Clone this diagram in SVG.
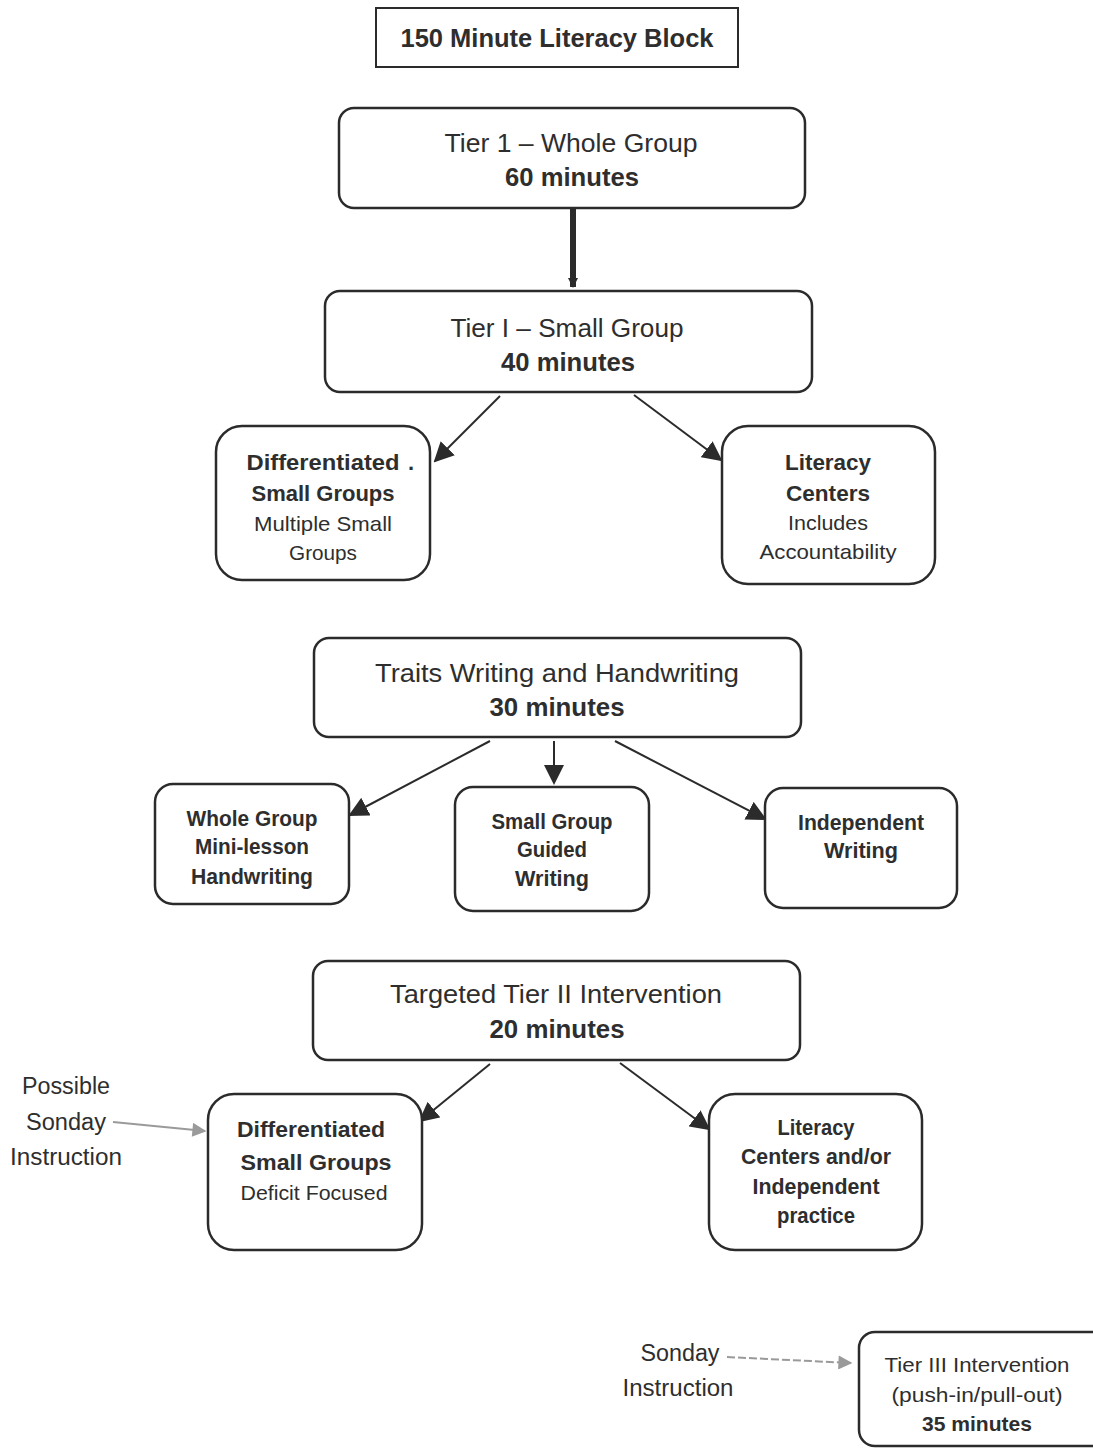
<svg xmlns="http://www.w3.org/2000/svg" width="1093" height="1448" viewBox="0 0 1093 1448">
<defs>
<style>
.bx{fill:#fff;stroke:#2b2b2b;stroke-width:2.5}
text{font-family:"Liberation Sans","Open Sans",sans-serif;fill:#2e2e2e;text-anchor:middle}
.h{font-size:26px}
.hb{font-size:26px;font-weight:bold}
.b{font-size:22px;font-weight:bold}
.r{font-size:21px}
.s{font-size:23px}
.c{stroke:#2b2b2b;stroke-width:2;fill:none}
.g{stroke:#9a9a9a;stroke-width:2;fill:none}
</style>
<marker id="ah" viewBox="0 0 10 10" refX="9" refY="5" markerWidth="20" markerHeight="20" markerUnits="userSpaceOnUse" orient="auto"><path d="M0,0L10,5L0,10z" fill="#2b2b2b"/></marker>
<marker id="ahs" viewBox="0 0 10 10" refX="9" refY="5" markerWidth="10" markerHeight="10" markerUnits="userSpaceOnUse" orient="auto"><path d="M0,0L10,5L0,10z" fill="#2b2b2b"/></marker>
<marker id="ag" viewBox="0 0 10 10" refX="9" refY="5" markerWidth="16" markerHeight="14" markerUnits="userSpaceOnUse" orient="auto"><path d="M0,0L10,5L0,10z" fill="#9a9a9a"/></marker>
</defs>
<rect width="1093" height="1448" fill="#fff"/>

<g id="connectors">
<line class="c" x1="573" y1="209" x2="573" y2="287" style="stroke-width:6" marker-end="url(#ahs)"/>
<line class="c" x1="500" y1="396" x2="435" y2="461" marker-end="url(#ah)"/>
<line class="c" x1="634" y1="395" x2="721" y2="460" marker-end="url(#ah)"/>
<line class="c" x1="490" y1="741" x2="350" y2="815" marker-end="url(#ah)"/>
<line class="c" x1="554" y1="741" x2="554" y2="783" marker-end="url(#ah)"/>
<line class="c" x1="615" y1="741" x2="765" y2="819" marker-end="url(#ah)"/>
<line class="c" x1="490" y1="1064" x2="420" y2="1121" marker-end="url(#ah)"/>
<line class="c" x1="620" y1="1063" x2="709" y2="1129" marker-end="url(#ah)"/>
<line class="g" x1="113" y1="1122" x2="205" y2="1131" marker-end="url(#ag)"/>
<line class="g" x1="727" y1="1357" x2="851" y2="1363" stroke-dasharray="8,3" marker-end="url(#ag)"/>
</g>

<g id="title">
<rect x="376" y="8" width="362" height="59" fill="#fff" stroke="#2b2b2b" stroke-width="2"/>
<text x="557" y="47" style="font-size:25px;font-weight:bold" textLength="313" lengthAdjust="spacingAndGlyphs">150 Minute Literacy Block</text>
</g>

<g id="tier1-whole">
<rect class="bx" x="339" y="108" width="466" height="100" rx="15"/>
<text class="h" x="571" y="152" textLength="253" lengthAdjust="spacingAndGlyphs">Tier 1 – Whole Group</text>
<text class="hb" x="572" y="186" textLength="134" lengthAdjust="spacingAndGlyphs">60 minutes</text>
</g>

<g id="tier1-small">
<rect class="bx" x="325" y="291" width="487" height="101" rx="15"/>
<text class="h" x="567" y="337" textLength="233" lengthAdjust="spacingAndGlyphs">Tier I – Small Group</text>
<text class="hb" x="568" y="371" textLength="134" lengthAdjust="spacingAndGlyphs">40 minutes</text>
</g>

<g id="diff-small-1">
<rect class="bx" x="216" y="426" width="214" height="154" rx="26"/>
<text class="b" x="323" y="470" textLength="153" lengthAdjust="spacingAndGlyphs">Differentiated</text>
<text class="b" x="411" y="470">.</text>
<text class="b" x="323" y="501" textLength="143" lengthAdjust="spacingAndGlyphs">Small Groups</text>
<text class="r" x="323" y="531" textLength="138" lengthAdjust="spacingAndGlyphs">Multiple Small</text>
<text class="r" x="323" y="560" textLength="68" lengthAdjust="spacingAndGlyphs">Groups</text>
</g>

<g id="lit-centers-1">
<rect class="bx" x="722" y="426" width="213" height="158" rx="26"/>
<text class="b" x="828" y="470" textLength="86" lengthAdjust="spacingAndGlyphs">Literacy</text>
<text class="b" x="828" y="501" textLength="84" lengthAdjust="spacingAndGlyphs">Centers</text>
<text class="r" x="828" y="530" textLength="80" lengthAdjust="spacingAndGlyphs">Includes</text>
<text class="r" x="828" y="559" textLength="137" lengthAdjust="spacingAndGlyphs">Accountability</text>
</g>

<g id="traits">
<rect class="bx" x="314" y="638" width="487" height="99" rx="15"/>
<text class="h" x="557" y="682" textLength="364" lengthAdjust="spacingAndGlyphs">Traits Writing and Handwriting</text>
<text class="hb" x="557" y="716" textLength="135" lengthAdjust="spacingAndGlyphs">30 minutes</text>
</g>

<g id="whole-group-mini">
<rect class="bx" x="155" y="784" width="194" height="120" rx="18"/>
<text class="b" x="252" y="826" textLength="131" lengthAdjust="spacingAndGlyphs">Whole Group</text>
<text class="b" x="252" y="854" textLength="114" lengthAdjust="spacingAndGlyphs">Mini-lesson</text>
<text class="b" x="252" y="884" textLength="122" lengthAdjust="spacingAndGlyphs">Handwriting</text>
</g>

<g id="small-group-guided">
<rect class="bx" x="455" y="787" width="194" height="124" rx="18"/>
<text class="b" x="552" y="829" textLength="121" lengthAdjust="spacingAndGlyphs">Small Group</text>
<text class="b" x="552" y="857" textLength="70" lengthAdjust="spacingAndGlyphs">Guided</text>
<text class="b" x="552" y="886" textLength="74" lengthAdjust="spacingAndGlyphs">Writing</text>
</g>

<g id="independent-writing">
<rect class="bx" x="765" y="788" width="192" height="120" rx="18"/>
<text class="b" x="861" y="830" textLength="126" lengthAdjust="spacingAndGlyphs">Independent</text>
<text class="b" x="861" y="858" textLength="74" lengthAdjust="spacingAndGlyphs">Writing</text>
</g>

<g id="tier2">
<rect class="bx" x="313" y="961" width="487" height="99" rx="15"/>
<text class="h" x="556" y="1003" textLength="332" lengthAdjust="spacingAndGlyphs">Targeted Tier II Intervention</text>
<text class="hb" x="557" y="1038" textLength="135" lengthAdjust="spacingAndGlyphs">20 minutes</text>
</g>

<g id="diff-small-2">
<rect class="bx" x="208" y="1094" width="214" height="156" rx="26"/>
<text class="b" x="311" y="1137" textLength="148" lengthAdjust="spacingAndGlyphs">Differentiated</text>
<text class="b" x="316" y="1170" textLength="151" lengthAdjust="spacingAndGlyphs">Small  Groups</text>
<text class="r" x="314" y="1200" textLength="147" lengthAdjust="spacingAndGlyphs">Deficit Focused</text>
</g>

<g id="lit-centers-2">
<rect class="bx" x="709" y="1094" width="213" height="156" rx="26"/>
<text class="b" x="816" y="1135" textLength="77" lengthAdjust="spacingAndGlyphs">Literacy</text>
<text class="b" x="816" y="1164" textLength="150" lengthAdjust="spacingAndGlyphs">Centers and/or</text>
<text class="b" x="816" y="1194" textLength="127" lengthAdjust="spacingAndGlyphs">Independent</text>
<text class="b" x="816" y="1223" textLength="78" lengthAdjust="spacingAndGlyphs">practice</text>
</g>

<g id="possible-sonday">
<text class="s" x="66" y="1094" textLength="88" lengthAdjust="spacingAndGlyphs">Possible</text>
<text class="s" x="66" y="1130" textLength="80" lengthAdjust="spacingAndGlyphs">Sonday</text>
<text class="s" x="66" y="1165" textLength="112" lengthAdjust="spacingAndGlyphs">Instruction</text>
</g>

<g id="sonday-instruction">
<text class="s" x="680" y="1361" textLength="79" lengthAdjust="spacingAndGlyphs">Sonday</text>
<text class="s" x="678" y="1396" textLength="111" lengthAdjust="spacingAndGlyphs">Instruction</text>
</g>

<g id="tier3">
<rect class="bx" x="859" y="1332" width="250" height="114" rx="16"/>
<text class="r" x="977" y="1372" textLength="185" lengthAdjust="spacingAndGlyphs">Tier III Intervention</text>
<text class="r" x="977" y="1402" textLength="171" lengthAdjust="spacingAndGlyphs">(push-in/pull-out)</text>
<text class="r" x="977" y="1431" textLength="110" lengthAdjust="spacingAndGlyphs" font-weight="bold">35 minutes</text>
</g>
</svg>
